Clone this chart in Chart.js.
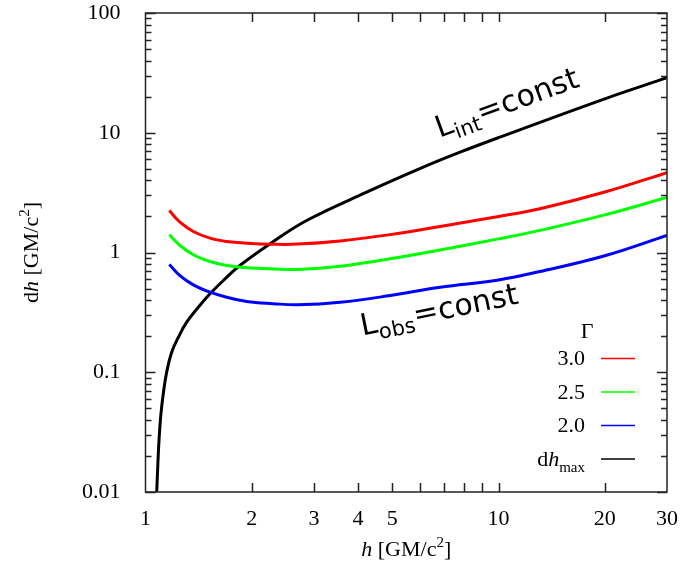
<!DOCTYPE html>
<html>
<head>
<meta charset="utf-8">
<script src="https://cdn.jsdelivr.net/npm/chart.js@4/dist/chart.umd.min.js"></script>
<style>html,body{margin:0;background:#fff}</style>
</head>
<body>
<canvas id="c" width="682" height="576"></canvas>
<script>
// dh_max curve
const hMax  = [1.076, 1.083, 1.092, 1.106, 1.126, 1.148, 1.186, 1.239, 1.308, 1.411, 1.523, 1.661,
               1.85, 2.25, 2.86, 4.23, 6.12, 7.78, 10, 20, 30];
const dhMax = [0.01, 0.0161, 0.0269, 0.0449, 0.0703, 0.1, 0.147, 0.196, 0.262, 0.349, 0.452, 0.584,
               0.779, 1.18, 1.85, 3.19, 5.16, 6.88, 9.1, 19.2, 28.8];

// L_obs = const curves, one per Gamma
const hGam  = [1.168, 1.252, 1.366, 1.523, 1.698, 1.935, 2.3, 2.7, 3.56, 4.93, 6.83, 10, 13.1, 20, 30];
const dhG30 = [2.243, 1.791, 1.497, 1.317, 1.236, 1.196, 1.172, 1.175, 1.25, 1.41, 1.65, 2.0, 2.32, 3.2, 4.65];
const dhG25 = [1.406, 1.144, 0.957, 0.841, 0.779, 0.745, 0.728, 0.722, 0.768, 0.886, 1.05, 1.30, 1.53, 2.06, 2.88];
const dhG20 = [0.794, 0.642, 0.537, 0.466, 0.423, 0.39, 0.374, 0.366, 0.384, 0.437, 0.513, 0.59, 0.694, 0.94, 1.39];

const gammaLabels = ['3.0', '2.5', '2.0'];
const xTicks  = [1, 2, 3, 4, 5, 6, 7, 8, 9, 10, 20, 30];
const xLabels = [1, 2, 3, 4, 5, 10, 20, 30];
const yLabels = [0.01, 0.1, 1, 10, 100];
const yTicks = [];
[0.01, 0.1, 1, 10].forEach(d => { for (let k = 1; k <= 9; k++) yTicks.push(d * k); });
yTicks.push(100);

const SERIF = '"Liberation Serif", "DejaVu Serif", serif';
const SANS  = '"DejaVu Sans", sans-serif';
const isDecade = v => yLabels.some(l => Math.abs(v / l - 1) < 1e-6);
const pts = (xs, ys) => xs.map((x, i) => ({ x, y: ys[i] }));

function line(label, data, color) {
  return {
    label, data, borderColor: color, backgroundColor: color,
    borderWidth: 3, pointRadius: 0, tension: 0.4, fill: false
  };
}

function runs(ctx, parts, x, y, align) {
  let w = 0;
  parts.forEach(p => { ctx.font = p.f; w += ctx.measureText(p.t).width; });
  let cx = align === 'right' ? x - w : align === 'center' ? x - w / 2 : x;
  ctx.textAlign = 'left';
  parts.forEach(p => {
    ctx.font = p.f;
    ctx.fillText(p.t, cx, y + (p.dy || 0));
    cx += ctx.measureText(p.t).width;
  });
}

const ink = {
  id: 'ink',
  afterDatasetsDraw(chart) {
    const { ctx, chartArea: a, scales: { x, y } } = chart;
    ctx.save();
    ctx.strokeStyle = '#222';
    ctx.lineWidth = 1.5;
    ctx.strokeRect(a.left, a.top, a.right - a.left, a.bottom - a.top);
    ctx.beginPath();
    xTicks.forEach(v => {
      if (v === 1 || v === 30) return;
      const px = Math.round(x.getPixelForValue(v)) + 0.5;
      ctx.moveTo(px, a.bottom); ctx.lineTo(px, a.bottom - 9);
      ctx.moveTo(px, a.top);    ctx.lineTo(px, a.top + 9);
    });
    yTicks.forEach(v => {
      const py = Math.round(y.getPixelForValue(v)) + 0.5;
      const len = isDecade(v) ? 10 : 6;
      ctx.moveTo(a.left, py);  ctx.lineTo(a.left + len, py);
      ctx.moveTo(a.right, py); ctx.lineTo(a.right - len, py);
    });
    ctx.stroke();

    // key
    ctx.fillStyle = '#000';
    ctx.textBaseline = 'alphabetic';
    const kx = a.right - 82;
    ctx.font = '22px ' + SERIF;
    ctx.textAlign = 'center';
    ctx.fillText('Γ', kx + 2, a.top + 325);
    const rows = [
      { parts: [{ t: gammaLabels[0], f: '22px ' + SERIF }], ds: 0 },
      { parts: [{ t: gammaLabels[1], f: '22px ' + SERIF }], ds: 1 },
      { parts: [{ t: gammaLabels[2], f: '22px ' + SERIF }], ds: 2 },
      { parts: [{ t: 'd', f: '22px ' + SERIF }, { t: 'h', f: 'italic 22px ' + SERIF },
                { t: 'max', f: '15px ' + SERIF, dy: 6 }], ds: 3 }
    ];
    ctx.lineWidth = 1.5;
    rows.forEach((r, i) => {
      const base = a.top + 352 + i * 33.5;
      runs(ctx, r.parts, kx, base, 'right');
      ctx.strokeStyle = chart.data.datasets[r.ds].borderColor;
      ctx.beginPath();
      ctx.moveTo(kx + 16, base - 6.5); ctx.lineTo(kx + 50, base - 6.5);
      ctx.stroke();
    });

    // curve annotations
    const note = (h, v, ang, sub) => {
      ctx.save();
      ctx.translate(x.getPixelForValue(h), y.getPixelForValue(v));
      ctx.rotate(ang * Math.PI / 180);
      runs(ctx, [{ t: 'L', f: '30px ' + SANS }, { t: sub, f: '21px ' + SANS, dy: 7 },
                 { t: '=const', f: '30px ' + SANS }], 0, 0, 'left');
      ctx.restore();
    };
    note(6.8, 9.1, -20, 'int');
    note(4.12, 0.203, -11.5, 'obs');

    // axis titles
    runs(ctx, [{ t: 'h', f: 'italic 22px ' + SERIF }, { t: ' [GM/c', f: '22px ' + SERIF },
               { t: '2', f: '15px ' + SERIF, dy: -9 }, { t: ']', f: '22px ' + SERIF }],
         (a.left + a.right) / 2, 556, 'center');
    ctx.save();
    ctx.translate(38, (a.top + a.bottom) / 2);
    ctx.rotate(-Math.PI / 2);
    runs(ctx, [{ t: 'd', f: '22px ' + SERIF }, { t: 'h', f: 'italic 22px ' + SERIF },
               { t: ' [GM/c', f: '22px ' + SERIF }, { t: '2', f: '15px ' + SERIF, dy: -9 },
               { t: ']', f: '22px ' + SERIF }], 0, 0, 'center');
    ctx.restore();
    ctx.restore();
  }
};

new Chart(document.getElementById('c'), {
  type: 'line',
  data: {
    datasets: [
      line('3.0', pts(hGam, dhG30), '#ff0000'),
      line('2.5', pts(hGam, dhG25), '#00ff00'),
      line('2.0', pts(hGam, dhG20), '#0000ff'),
      line('dh_max', pts(hMax, dhMax), '#000000')
    ]
  },
  options: {
    responsive: false,
    animation: false,
    layout: { padding: { left: 0, right: 15, top: 13, bottom: 0 } },
    plugins: { legend: { display: false }, tooltip: { enabled: false } },
    scales: {
      x: {
        type: 'logarithmic', min: 1, max: 30,
        afterBuildTicks: s => { s.ticks = xTicks.map(v => ({ value: v })); },
        afterFit: s => { s.height = 84; s.paddingLeft = 0; s.paddingRight = 0; },
        grid: { display: false }, border: { display: false },
        ticks: {
          autoSkip: false, maxRotation: 0, padding: 6, color: '#000',
          font: { family: SERIF, size: 22 },
          callback: v => xLabels.includes(v) ? String(v) : ''
        }
      },
      y: {
        type: 'logarithmic', min: 0.01, max: 100,
        afterBuildTicks: s => { s.ticks = yTicks.map(v => ({ value: v })); },
        afterFit: s => { s.width = 145.5; s.paddingTop = 0; s.paddingBottom = 0; },
        grid: { display: false }, border: { display: false },
        ticks: {
          autoSkip: false, padding: 17, color: '#000',
          font: { family: SERIF, size: 22 },
          callback: v => isDecade(v) ? String(yLabels.find(l => Math.abs(v / l - 1) < 1e-6)) : ''
        }
      }
    }
  },
  plugins: [ink]
});
</script>
</body>
</html>
